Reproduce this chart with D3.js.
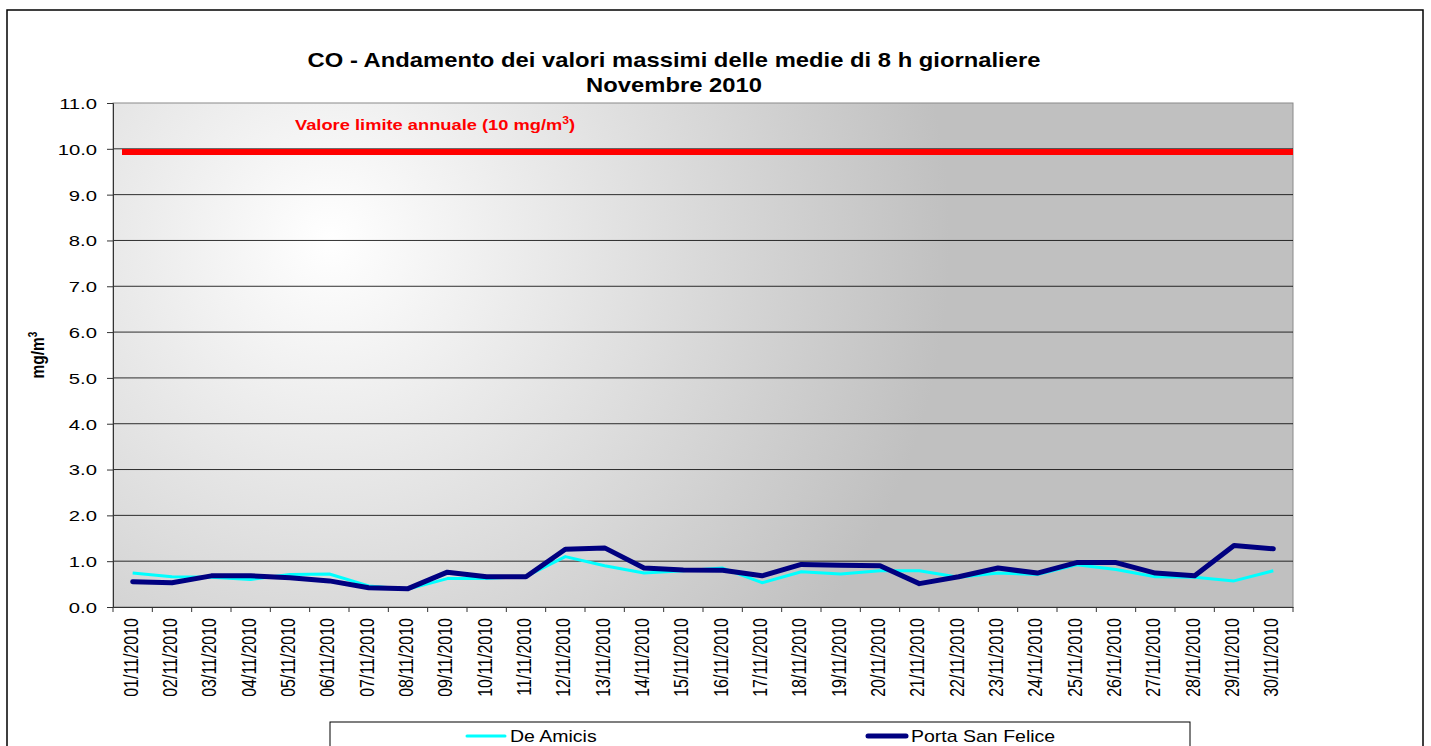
<!DOCTYPE html>
<html>
<head>
<meta charset="utf-8">
<script src="https://cdn.jsdelivr.net/npm/d3@7"></script>
<style>
  body { margin: 0; background: #fff; }
  svg { display: block; font-family: "Liberation Sans", Arial, sans-serif; }
</style>
</head>
<body>
<svg id="chart" width="1431" height="746"></svg>
<script>
// data
var days = ["01/11/2010","02/11/2010","03/11/2010","04/11/2010","05/11/2010","06/11/2010",
  "07/11/2010","08/11/2010","09/11/2010","10/11/2010","11/11/2010","12/11/2010","13/11/2010",
  "14/11/2010","15/11/2010","16/11/2010","17/11/2010","18/11/2010","19/11/2010","20/11/2010",
  "21/11/2010","22/11/2010","23/11/2010","24/11/2010","25/11/2010","26/11/2010","27/11/2010",
  "28/11/2010","29/11/2010","30/11/2010"];
var deAmicis = [0.74,0.66,0.65,0.60,0.71,0.72,0.46,0.39,0.62,0.62,0.67,1.10,0.90,0.74,0.79,
  0.85,0.53,0.77,0.72,0.79,0.79,0.65,0.74,0.71,0.92,0.82,0.66,0.65,0.57,0.79];
var portaSanFelice = [0.55,0.53,0.68,0.68,0.64,0.57,0.42,0.40,0.76,0.66,0.66,1.26,1.29,0.85,
  0.81,0.80,0.68,0.93,0.91,0.90,0.51,0.66,0.85,0.74,0.97,0.97,0.74,0.68,1.34,1.27];
var limitValue = 9.93;
var yTicks = [0,1,2,3,4,5,6,7,8,9,10,11];

var svg = d3.select("#chart");
var plotLeft = 113, plotRight = 1293, plotTop = 103, plotBottom = 607;
var sx = 1.22; // the original picture is stretched sideways

var x = d3.scaleBand().domain(days).range([plotLeft, plotRight]);
var y = d3.scaleLinear().domain([0, 11]).range([plotBottom, plotTop]);

// outer frame
svg.append("rect").attr("x", 7).attr("y", 10).attr("width", 1416).attr("height", 760)
  .attr("fill", "none").attr("stroke", "#000").attr("stroke-width", 1.5);

// plot background gradient
var defs = svg.append("defs");
var grad = defs.append("radialGradient").attr("id", "bg")
  .attr("gradientUnits", "userSpaceOnUse")
  .attr("cx", 330).attr("cy", 240).attr("r", 620);
grad.append("stop").attr("offset", "0%").attr("stop-color", "#ffffff");
grad.append("stop").attr("offset", "100%").attr("stop-color", "#c0c0c0");

svg.append("rect").attr("x", plotLeft).attr("y", plotTop)
  .attr("width", plotRight - plotLeft).attr("height", plotBottom - plotTop)
  .attr("fill", "url(#bg)").attr("stroke", "#8a8a8a").attr("stroke-width", 1);

// gridlines
svg.append("g").selectAll("line").data(yTicks.slice(1, -1)).enter().append("line")
  .attr("x1", plotLeft).attr("x2", plotRight)
  .attr("y1", function(d){ return y(d); }).attr("y2", function(d){ return y(d); })
  .attr("stroke", "#000").attr("stroke-width", 1).attr("opacity", 0.8);

// y axis
var yAxis = svg.append("g").attr("transform", "translate(" + plotLeft + ",0)")
  .call(d3.axisLeft(y).tickValues(yTicks).tickFormat(d3.format(".1f")).tickSize(6).tickPadding(9));
yAxis.select(".domain").attr("stroke", "#333");
yAxis.selectAll(".tick line").attr("stroke", "#333");
yAxis.selectAll("text").attr("font-size", 15).attr("fill", "#000")
  .attr("font-family", "Liberation Sans, Arial, sans-serif")
  .attr("x", 0).attr("dy", "0.36em")
  .attr("transform", "translate(-16,0) scale(1.35,1)");

// x axis
var xAxis = svg.append("g").attr("transform", "translate(0," + plotBottom + ")")
  .call(d3.axisBottom(x).tickSize(0).tickPadding(0));
xAxis.select(".domain").attr("stroke", "#333");
xAxis.selectAll("text")
  .attr("font-size", 16).attr("fill", "#000")
  .attr("font-family", "Liberation Sans, Arial, sans-serif")
  .attr("transform", "translate(5,11) scale(" + sx + ",1) rotate(-90)")
  .attr("text-anchor", "end").attr("dy", 0).attr("y", 0).attr("x", 0);
// tick marks on category boundaries
svg.append("g").selectAll("line").data(days.concat(["end"])).enter().append("line")
  .attr("x1", function(d, i){ return plotLeft + i * x.step(); })
  .attr("x2", function(d, i){ return plotLeft + i * x.step(); })
  .attr("y1", plotBottom).attr("y2", plotBottom + 5)
  .attr("stroke", "#333");

// limit line
svg.append("line").attr("x1", plotLeft + 9).attr("x2", plotRight)
  .attr("y1", y(limitValue)).attr("y2", y(limitValue))
  .attr("stroke", "#ff0000").attr("stroke-width", 6);
var lim = svg.append("text").attr("transform", "translate(295,130) scale(" + sx + ",1)")
  .attr("fill", "#ff0000").attr("font-weight", "bold").attr("font-size", 15);
lim.append("tspan").text("Valore limite annuale (10 mg/m");
lim.append("tspan").attr("dy", -6).attr("font-size", 10).text("3");
lim.append("tspan").attr("dy", 6).text(")");

// series lines
var cx = function(d, i){ return x(days[i]) + x.bandwidth() / 2; };
var line = d3.line().x(cx).y(function(d){ return y(d); });
svg.append("path").datum(deAmicis).attr("d", line)
  .attr("fill", "none").attr("stroke", "#00ffff").attr("stroke-width", 3)
  .attr("stroke-linejoin", "round");
svg.append("path").datum(portaSanFelice).attr("d", line)
  .attr("fill", "none").attr("stroke", "#000080").attr("stroke-width", 5)
  .attr("stroke-linejoin", "round").attr("stroke-linecap", "round");

// title
svg.append("text").attr("transform", "translate(674,67) scale(" + sx + ",1)").attr("text-anchor", "middle")
  .attr("font-weight", "bold").attr("font-size", 19.5)
  .text("CO - Andamento dei valori massimi delle medie di 8 h giornaliere");
svg.append("text").attr("transform", "translate(674,92) scale(" + sx + ",1)").attr("text-anchor", "middle")
  .attr("font-weight", "bold").attr("font-size", 19.5)
  .text("Novembre 2010");

// y title
var yt = svg.append("text").attr("transform", "translate(44,355) scale(" + sx + ",1) rotate(-90)")
  .attr("text-anchor", "middle").attr("font-weight", "bold").attr("font-size", 15.5);
yt.append("tspan").text("mg/m");
yt.append("tspan").attr("dy", -6).attr("font-size", 10).text("3");

// legend
var legendItems = [
  { name: "De Amicis", color: "#00ffff", width: 3, x: 467 },
  { name: "Porta San Felice", color: "#000080", width: 5, x: 868 }
];
svg.append("rect").attr("x", 330).attr("y", 722).attr("width", 860).attr("height", 40)
  .attr("fill", "#fff").attr("stroke", "#000").attr("stroke-width", 1);
var lg = svg.append("g").selectAll("g").data(legendItems).enter().append("g");
lg.append("line").attr("x1", function(d){ return d.x; }).attr("x2", function(d){ return d.x + 38; })
  .attr("y1", 736).attr("y2", 736)
  .attr("stroke", function(d){ return d.color; }).attr("stroke-width", function(d){ return d.width; })
  .attr("stroke-linecap", "round");
lg.append("text")
  .attr("transform", function(d){ return "translate(" + (d.x + 43) + ",742) scale(1.22,1)"; })
  .attr("font-size", 16)
  .text(function(d){ return d.name; });
</script>
</body>
</html>
